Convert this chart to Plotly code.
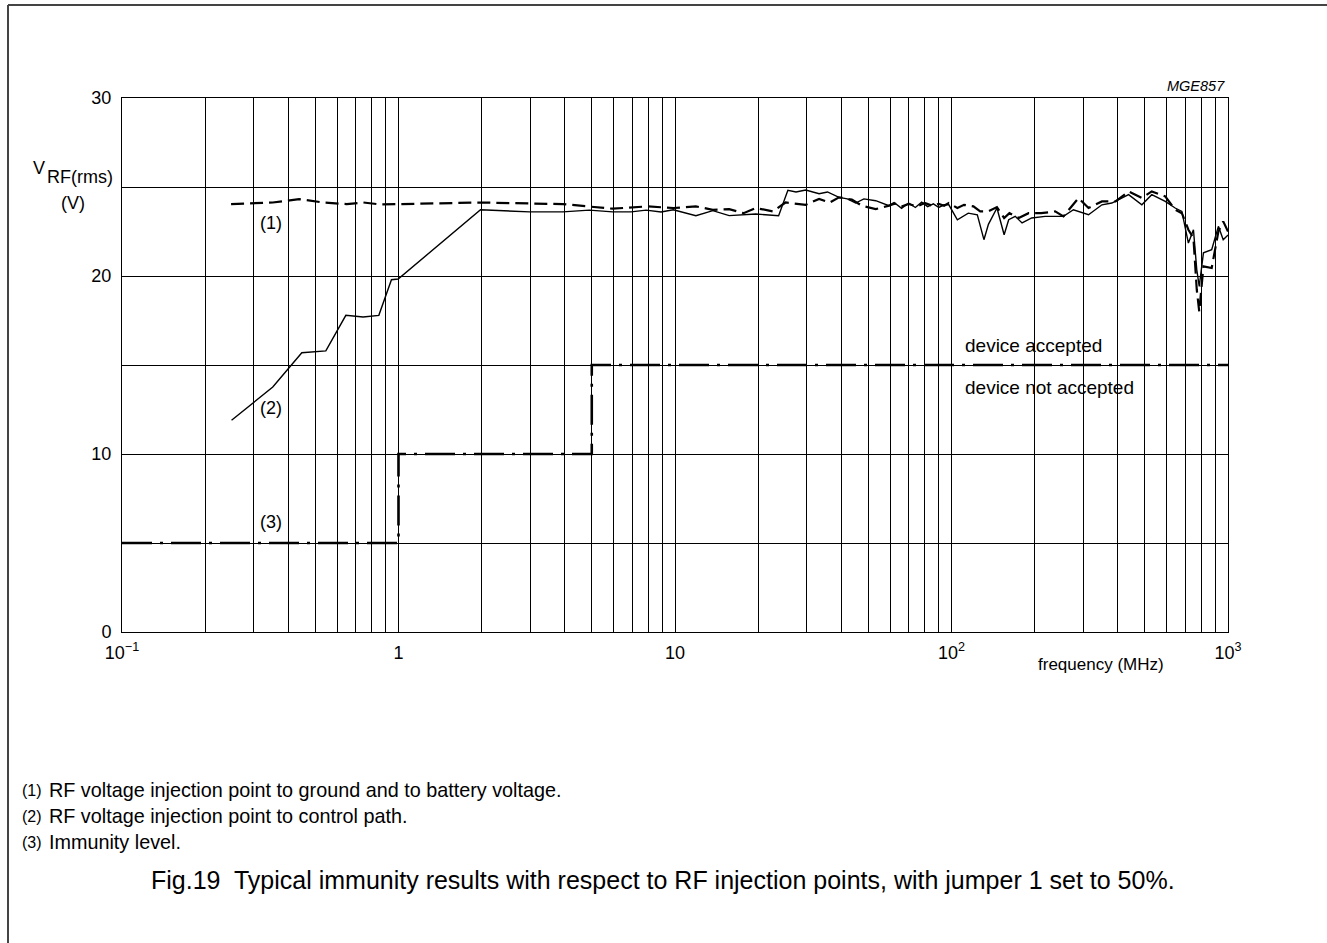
import plotly.graph_objects as go

# ---------------- data ----------------
freq_1 = [0.248, 0.351, 0.437, 0.534, 0.65, 0.745, 0.86, 1.98, 3.93, 5.95, 7.95, 9.86, 11.9, 13.7,
          15.7, 17.7, 19.6, 22.6, 25.1, 29.7, 33.2, 36.3, 39.2, 43.6, 47.4, 53.2, 59.4, 62, 66, 70,
          75, 80, 85, 90, 94, 97.8, 105, 111, 120, 127, 136, 146, 155, 162, 175, 190, 211, 237,
          254, 288, 313, 350, 392, 437, 488, 530, 593, 644, 681, 719, 750, 771, 787, 815, 873,
          923, 961, 1000]
volt_1 = [24.04, 24.13, 24.32, 24.13, 24.04, 24.13, 24.02, 24.13, 24.04, 23.78, 23.91, 23.82, 23.91,
          23.72, 23.76, 23.53, 23.82, 23.63, 24.13, 24.0, 24.33, 24.13, 24.42, 24.29, 23.95, 23.76,
          23.95, 24.1, 23.9, 24.05, 23.9, 24.1, 23.95, 24.05, 23.95, 24.1, 23.82, 24.0, 23.91, 23.63,
          23.63, 23.87, 23.26, 23.53, 23.26, 23.53, 23.53, 23.63, 23.35, 24.38, 23.82, 24.19, 24.19,
          24.75, 24.38, 24.75, 24.47, 23.72, 23.53, 22.6, 22.13, 19.23, 18.0, 20.54, 20.45, 22.5,
          23.07, 22.5]

freq_2 = [0.249, 0.351, 0.447, 0.546, 0.645, 0.745, 0.849, 0.943, 0.997, 1.98, 2.98, 3.93, 4.9, 5.95,
          6.94, 7.86, 8.9, 9.86, 11.9, 13.7, 15.7, 19.6, 23.7, 25.6, 27.4, 29.7, 33.2, 35.6, 39.2,
          42, 45, 48.2, 53.2, 59.4, 63, 66, 70, 74, 78, 82, 86, 90, 94, 97.8, 105, 115, 124, 131,
          136, 146, 155, 161, 170, 180, 195, 218, 254, 276, 313, 350, 380, 437, 488, 530, 593, 644,
          681, 719, 750, 771, 787, 815, 873, 923, 961, 1000]
volt_2 = [11.9, 13.76, 15.69, 15.79, 17.79, 17.7, 17.79, 19.79, 19.83, 23.72, 23.6, 23.6, 23.7, 23.6,
          23.6, 23.7, 23.6, 23.72, 23.39, 23.67, 23.39, 23.48, 23.39, 24.81, 24.72, 24.83, 24.62,
          24.72, 24.42, 24.33, 24.1, 24.33, 24.23, 23.95, 24.05, 23.8, 24.1, 23.85, 24.15, 23.9,
          24.05, 23.85, 24.0, 24.0, 23.16, 23.53, 23.44, 22.04, 22.9, 23.82, 22.32, 23.16, 23.35,
          22.98, 23.26, 23.35, 23.35, 23.72, 23.44, 24.0, 24.1, 24.57, 24.0, 24.57, 24.19, 23.82,
          23.63, 21.85, 22.6, 20.35, 19.42, 21.3, 21.48, 22.79, 22.04, 22.3]

freq_3 = [0.1, 1, 5, 1000]
volt_3 = [5, 10, 15, 15]

x_grid = [m * 10 ** e for e in range(-1, 3) for m in range(1, 10)] + [1000]
x_labels = {0.1: "10<sup>−1</sup>", 1: "1", 10: "10", 100: "10<sup>2</sup>", 1000: "10<sup>3</sup>"}
x_ticktext = [x_labels.get(round(v, 6), "") for v in x_grid]
y_grid = [0, 5, 10, 15, 20, 25, 30]
y_ticktext = ["0", "", "10", "", "20", "", "30"]

notes = ["(1)", "(2)", "(3)"]
note_texts = ["RF voltage injection point to ground and to battery voltage.",
              "RF voltage injection point to control path.",
              "Immunity level."]

# ---------------- figure ----------------
W, H = 1327, 943
L, R, T, B = 122, 1228, 98, 632
FONT = "Liberation Sans, Arial, sans-serif"


def px(x):
    return (x - L) / (R - L)


def py(y):
    return (B - y) / (B - T)


fig = go.Figure()
fig.add_trace(go.Scatter(x=freq_3, y=volt_3, mode="lines", line_shape="hv",
                         line=dict(color="black", width=2.6, dash="30px,8px,3px,8px"),
                         showlegend=False, hoverinfo="skip"))
fig.add_trace(go.Scatter(x=freq_1, y=volt_1, mode="lines",
                         line=dict(color="black", width=2.2, dash="13px,6px"),
                         showlegend=False, hoverinfo="skip"))
fig.add_trace(go.Scatter(x=freq_2, y=volt_2, mode="lines",
                         line=dict(color="black", width=1.4),
                         showlegend=False, hoverinfo="skip"))

fig.update_xaxes(type="log", range=[-1, 3], tickmode="array", tickvals=x_grid, ticktext=x_ticktext,
                 showgrid=True, gridcolor="black", gridwidth=1, showline=True, mirror=True,
                 linecolor="black", linewidth=1, ticks="", zeroline=False, ticklabelstandoff=4,
                 tickfont=dict(family=FONT, size=18, color="black"))
fig.update_yaxes(range=[0, 30], tickmode="array", tickvals=y_grid, ticktext=y_ticktext,
                 showgrid=True, gridcolor="black", gridwidth=1, showline=True, mirror=True,
                 linecolor="black", linewidth=1, ticks="", zeroline=False, ticklabelstandoff=6,
                 tickfont=dict(family=FONT, size=18, color="black"))


def ann(text, x, y, size=19, xanchor="center", italic=False):
    fig.add_annotation(text=f"<i>{text}</i>" if italic else text, x=px(x), y=py(y),
                       xref="paper", yref="paper", showarrow=False, xanchor=xanchor,
                       yanchor="middle", font=dict(family=FONT, size=size, color="black"))


ann("MGE857", 1227, 86, size=14.5, xanchor="right", italic=True)
ann("V", 39, 168, size=18)
ann("RF(rms)", 79.5, 177, size=18)
ann("(V)", 73, 203, size=18)
ann("(1)", 271, 223, size=18)
ann("(2)", 271, 408, size=18)
ann("(3)", 271, 522, size=18)
ann("device accepted", 963, 345, xanchor="left")
ann("device not accepted", 963, 387, xanchor="left")
ann("frequency (MHz)", 1036, 664, size=17, xanchor="left")

for i, (n, t) in enumerate(zip(notes, note_texts)):
    yy = 790 + 26 * i
    ann(n, 20, yy, size=16, xanchor="left")
    ann(t, 47, yy, size=19.8, xanchor="left")

ann("Fig.19  Typical immunity results with respect to RF injection points, with jumper 1 set to 50%.",
    663, 880, size=25)

# figure border (left and top edges)
fig.add_shape(type="line", xref="paper", yref="paper", x0=px(8), x1=px(8), y0=py(943), y1=py(5),
              line=dict(color="#444", width=2))
fig.add_shape(type="line", xref="paper", yref="paper", x0=px(8), x1=px(1327), y0=py(5), y1=py(5),
              line=dict(color="#444", width=2))

fig.update_layout(width=W, height=H, margin=dict(l=L, r=W - R, t=T, b=H - B, autoexpand=False),
                  paper_bgcolor="white", plot_bgcolor="white", showlegend=False)

fig.write_html("out.html", config={"displayModeBar": False},
               post_script="document.body.style.margin='0px';")
